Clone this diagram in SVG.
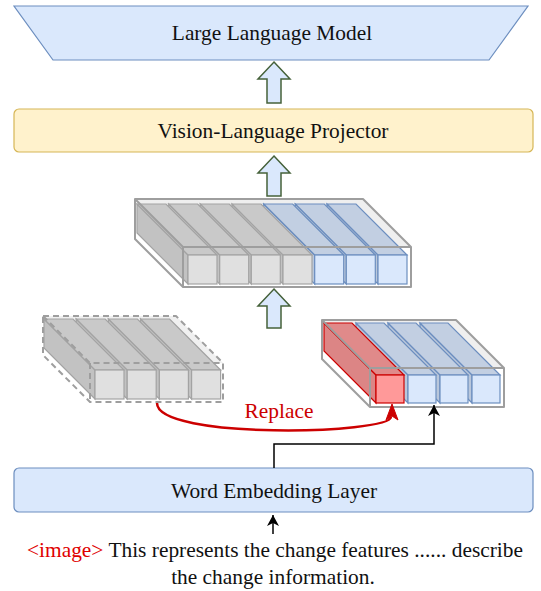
<svg xmlns="http://www.w3.org/2000/svg" width="541" height="591" viewBox="0 0 541 591">
<style>
text{font-family:'Liberation Serif','Times New Roman',serif;font-size:21.4px;fill:#111}
.blk{fill:#dae8fc;stroke:#45613a;stroke-width:1.5}
.g .f{fill:#e0e0e0;stroke:#a3a3a3;stroke-width:1.2}
.g .t{fill:#c9c9c9;stroke:#a3a3a3;stroke-width:1.2}
.g .s{fill:#c2c2c2;stroke:#a3a3a3;stroke-width:1.2}
.b .f{fill:#dae8fc;stroke:#6c8ebf;stroke-width:1.2}
.b .t{fill:#c2cfe2;stroke:#6c8ebf;stroke-width:1.2}
.b .s{fill:#b9c7db;stroke:#6c8ebf;stroke-width:1.2}
.r .f{fill:#ff9999;stroke:#cc0000;stroke-width:1.2}
.r .t{fill:#e08a8a;stroke:#cc0000;stroke-width:1.2}
.r .s{fill:#dc8585;stroke:#cc0000;stroke-width:1.2}
.ol{fill:none;stroke:#9e9e9e;stroke-width:2;stroke-linejoin:round}
.dash{stroke-dasharray:6 4}
</style>
<defs>
<marker id="ah" markerWidth="12" markerHeight="12" viewBox="0 0 12 12" refX="11" refY="6" orient="auto" markerUnits="userSpaceOnUse">
<path d="M0,0 L11,6 L0,12 L3,6 Z" fill="#000"/>
</marker>
</defs>

<g id="llm">
<polygon points="14,6 528,6 489,60 53,60" fill="#dae8fc" stroke="#6c8ebf" stroke-width="1.2"/>
<text x="272" y="40" text-anchor="middle">Large Language Model</text>
</g>

<g id="projector">
<rect x="14" y="109" width="519" height="43" rx="5" fill="#fff2cc" stroke="#d6b656" stroke-width="1.2"/>
<text x="273" y="138" text-anchor="middle">Vision-Language Projector</text>
</g>

<g id="arrows-block">
<path class="blk" d="M274,62 L290,79 L281,79 L281,103 L267,103 L267,79 L258,79 Z"/>
<path class="blk" d="M274,156 L290,173 L281,173 L281,196 L267,196 L267,173 L258,173 Z"/>
<path class="blk" d="M274,289 L290,306 L281,306 L281,328 L267,328 L267,306 L258,306 Z"/>
</g>

<g id="stack-main">
<polygon points="135,199 363,199 411,247 183,247" fill="#efefef"/>
<polygon points="135,199 183,247 183,287 135,239" fill="#fff"/>
<rect x="183" y="247" width="228" height="40" fill="#fff"/>
<g class="b">
<polygon class="s" points="327,204 378,255 378,284 327,233"/><polygon class="t" points="327,204 356,204 407,255 378,255"/><rect class="f" x="378" y="255" width="29" height="29"/>
<polygon class="s" points="295.3,204 346.3,255 346.3,284 295.3,233"/><polygon class="t" points="295.3,204 324.3,204 375.3,255 346.3,255"/><rect class="f" x="346.3" y="255" width="29" height="29"/>
<polygon class="s" points="263.7,204 314.7,255 314.7,284 263.7,233"/><polygon class="t" points="263.7,204 292.7,204 343.7,255 314.7,255"/><rect class="f" x="314.7" y="255" width="29" height="29"/>
</g>
<g class="g">
<polygon class="s" points="232,204 283,255 283,284 232,233"/><polygon class="t" points="232,204 261,204 312,255 283,255"/><rect class="f" x="283" y="255" width="29" height="29"/>
<polygon class="s" points="200.3,204 251.3,255 251.3,284 200.3,233"/><polygon class="t" points="200.3,204 229.3,204 280.3,255 251.3,255"/><rect class="f" x="251.3" y="255" width="29" height="29"/>
<polygon class="s" points="168.7,204 219.7,255 219.7,284 168.7,233"/><polygon class="t" points="168.7,204 197.7,204 248.7,255 219.7,255"/><rect class="f" x="219.7" y="255" width="29" height="29"/>
<polygon class="s" points="137,204 188,255 188,284 137,233"/><polygon class="t" points="137,204 166,204 217,255 188,255"/><rect class="f" x="188" y="255" width="29" height="29"/>
</g>
<path class="ol" d="M135,199 L363,199 L411,247 L411,287 L183,287 L135,239 Z M135,199 L183,247 L411,247 M183,247 L183,287"/>
</g>

<g id="stack-left">
<polygon points="43,316 176,316 223,363 90,363" fill="#f0f0f0"/>
<g class="g">
<polygon class="s" points="140.6,319 191.6,370 191.6,399 140.6,348"/><polygon class="t" points="140.6,319 169.6,319 220.6,370 191.6,370"/><rect class="f" x="191.6" y="370" width="29" height="29"/>
<polygon class="s" points="108.4,319 159.4,370 159.4,399 108.4,348"/><polygon class="t" points="108.4,319 137.4,319 188.4,370 159.4,370"/><rect class="f" x="159.4" y="370" width="29" height="29"/>
<polygon class="s" points="76.2,319 127.2,370 127.2,399 76.2,348"/><polygon class="t" points="76.2,319 105.2,319 156.2,370 127.2,370"/><rect class="f" x="127.2" y="370" width="29" height="29"/>
<polygon class="s" points="44,319 95,370 95,399 44,348"/><polygon class="t" points="44,319 73,319 124,370 95,370"/><rect class="f" x="95" y="370" width="29" height="29"/>
</g>
<path class="ol dash" d="M43,316 L176,316 L223,363 L223,402 L90,402 L43,355 Z M43,316 L90,363 L223,363 M90,363 L90,402"/>
</g>

<g id="stack-right">
<polygon points="322,320 456,320 504,368 370,368" fill="#efefef"/>
<polygon points="322,320 370,368 370,407 322,359" fill="#fff"/>
<rect x="370" y="368" width="134" height="39" fill="#fff"/>
<g class="b">
<polygon class="s" points="420,323 472,375 472,403 420,351"/><polygon class="t" points="420,323 448,323 500,375 472,375"/><rect class="f" x="472" y="375" width="28" height="28"/>
<polygon class="s" points="388,323 440,375 440,403 388,351"/><polygon class="t" points="388,323 416,323 468,375 440,375"/><rect class="f" x="440" y="375" width="28" height="28"/>
<polygon class="s" points="356,323 408,375 408,403 356,351"/><polygon class="t" points="356,323 384,323 436,375 408,375"/><rect class="f" x="408" y="375" width="28" height="28"/>
</g>
<g class="r">
<polygon class="s" points="324,323 376,375 376,403 324,351"/><polygon class="t" points="324,323 352,323 404,375 376,375"/><rect class="f" x="376" y="375" width="28" height="28"/>
</g>
<path class="ol" d="M322,320 L456,320 L504,368 L504,407 L370,407 L322,359 Z M322,320 L370,368 L504,368 M370,368 L370,407"/>
</g>

<g id="word-embedding">
<rect x="14" y="468" width="519" height="44" rx="5" fill="#dae8fc" stroke="#6c8ebf" stroke-width="1.2"/>
<text x="274" y="498" text-anchor="middle">Word Embedding Layer</text>
</g>

<g id="connectors">
<path d="M157,403 C157,440 390,434 391,417" fill="none" stroke="#cc0000" stroke-width="2.5"/>
<path d="M392,404 L398,420 L392,416 L386,420 Z" fill="#cc0000" stroke="#cc0000" stroke-width="1"/>
<text x="279" y="418" text-anchor="middle" style="fill:#cc0000">Replace</text>
<path d="M274,468 V444 H434 V405" fill="none" stroke="#000" stroke-width="1.5" marker-end="url(#ah)"/>
<path d="M273,534 V515" fill="none" stroke="#000" stroke-width="1.5" marker-end="url(#ah)"/>
</g>

<g id="caption">
<text x="275" y="557" text-anchor="middle"><tspan style="fill:#e00000">&lt;image&gt;</tspan> This represents the change features ...... describe</text>
<text x="273" y="584" text-anchor="middle">the change information.</text>
</g>
</svg>
